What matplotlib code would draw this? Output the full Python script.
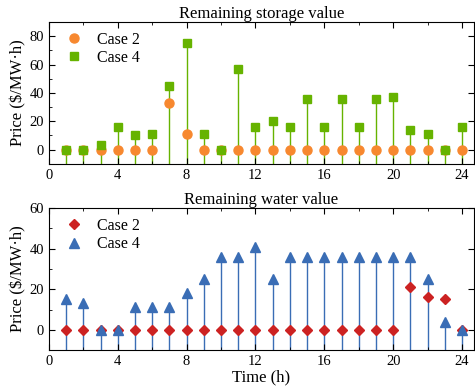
import matplotlib.pyplot as plt
from matplotlib.ticker import MultipleLocator

plt.rcParams["font.family"] = ["Liberation Serif", "DejaVu Serif"]

HOURS = list(range(1, 25))

# Remaining storage value ($/MW·h)
STORAGE_CASE2 = [0, 0, 0, 0, 0, 0, 33, 11, 0, 0, 0, 0,
                 0, 0, 0, 0, 0, 0, 0, 0, 0, 0, 0, 0]
STORAGE_CASE4 = [0, 0, 3, 16, 10, 11, 45, 75, 11, 0, 57, 16,
                 20, 16, 36, 16, 36, 16, 36, 37, 14, 11, 0, 16]

# Remaining water value ($/MW·h)
WATER_CASE2 = [0, 0, 0, 0, 0, 0, 0, 0, 0, 0, 0, 0,
               0, 0, 0, 0, 0, 0, 0, 0, 21, 16, 15, 0]
WATER_CASE4 = [15, 13, 0, 0, 11, 11, 11, 18, 25, 36, 36, 41,
               25, 36, 36, 36, 36, 36, 36, 36, 36, 25, 4, 0]

ORANGE = "#f7882f"
GREEN = "#66b300"
RED = "#cc2222"
BLUE = "#3a6db5"


def style_axis(ax, ylim, ymajor, yminor):
    ax.set_xlim(0, 24.7)
    ax.set_ylim(*ylim)
    ax.xaxis.set_major_locator(MultipleLocator(4))
    ax.xaxis.set_minor_locator(MultipleLocator(2))
    ax.yaxis.set_major_locator(MultipleLocator(ymajor))
    ax.yaxis.set_minor_locator(MultipleLocator(yminor))
    ax.tick_params(which="both", direction="in", top=True, right=True,
                   labelsize=10.5)
    ax.tick_params(which="major", length=4)
    ax.tick_params(which="minor", length=2.5, right=False)
    ax.set_ylabel("Price ($/MW·h)", fontsize=12, labelpad=2)


def add_legend(ax):
    ax.legend(loc="upper left", frameon=False, fontsize=11.5,
              handletextpad=0.4, borderaxespad=0.3, labelspacing=0.15,
              borderpad=0.3)


fig = plt.figure(figsize=(4.75, 3.92), dpi=100)
ax1 = fig.add_axes([0.103, 0.582, 0.895, 0.362])
ax2 = fig.add_axes([0.103, 0.107, 0.895, 0.362])

# top panel
ax1.vlines(HOURS, -10, STORAGE_CASE4, color=GREEN, linewidth=1.0, zorder=1)
ax1.plot(HOURS, STORAGE_CASE2, "o", color=ORANGE, markersize=6.5,
         linestyle="none", label="Case 2", zorder=2)
ax1.plot(HOURS, STORAGE_CASE4, "s", color=GREEN, markersize=6,
         linestyle="none", label="Case 4", zorder=3)
style_axis(ax1, (-10, 90), 20, 10)
ax1.set_title("Remaining storage value", fontsize=12, pad=1)
add_legend(ax1)

# bottom panel
ax2.vlines(HOURS, -10, WATER_CASE4, color=BLUE, linewidth=1.0, zorder=1)
ax2.plot(HOURS, WATER_CASE2, "D", color=RED, markersize=5.5,
         linestyle="none", label="Case 2", zorder=2)
ax2.plot(HOURS, WATER_CASE4, "^", color=BLUE, markersize=7,
         linestyle="none", label="Case 4", zorder=3)
style_axis(ax2, (-10, 60), 20, 10)
ax2.set_title("Remaining water value", fontsize=12, pad=1)
ax2.set_xlabel("Time (h)", fontsize=12, labelpad=1)
add_legend(ax2)

fig.savefig("out.png", dpi=100)
